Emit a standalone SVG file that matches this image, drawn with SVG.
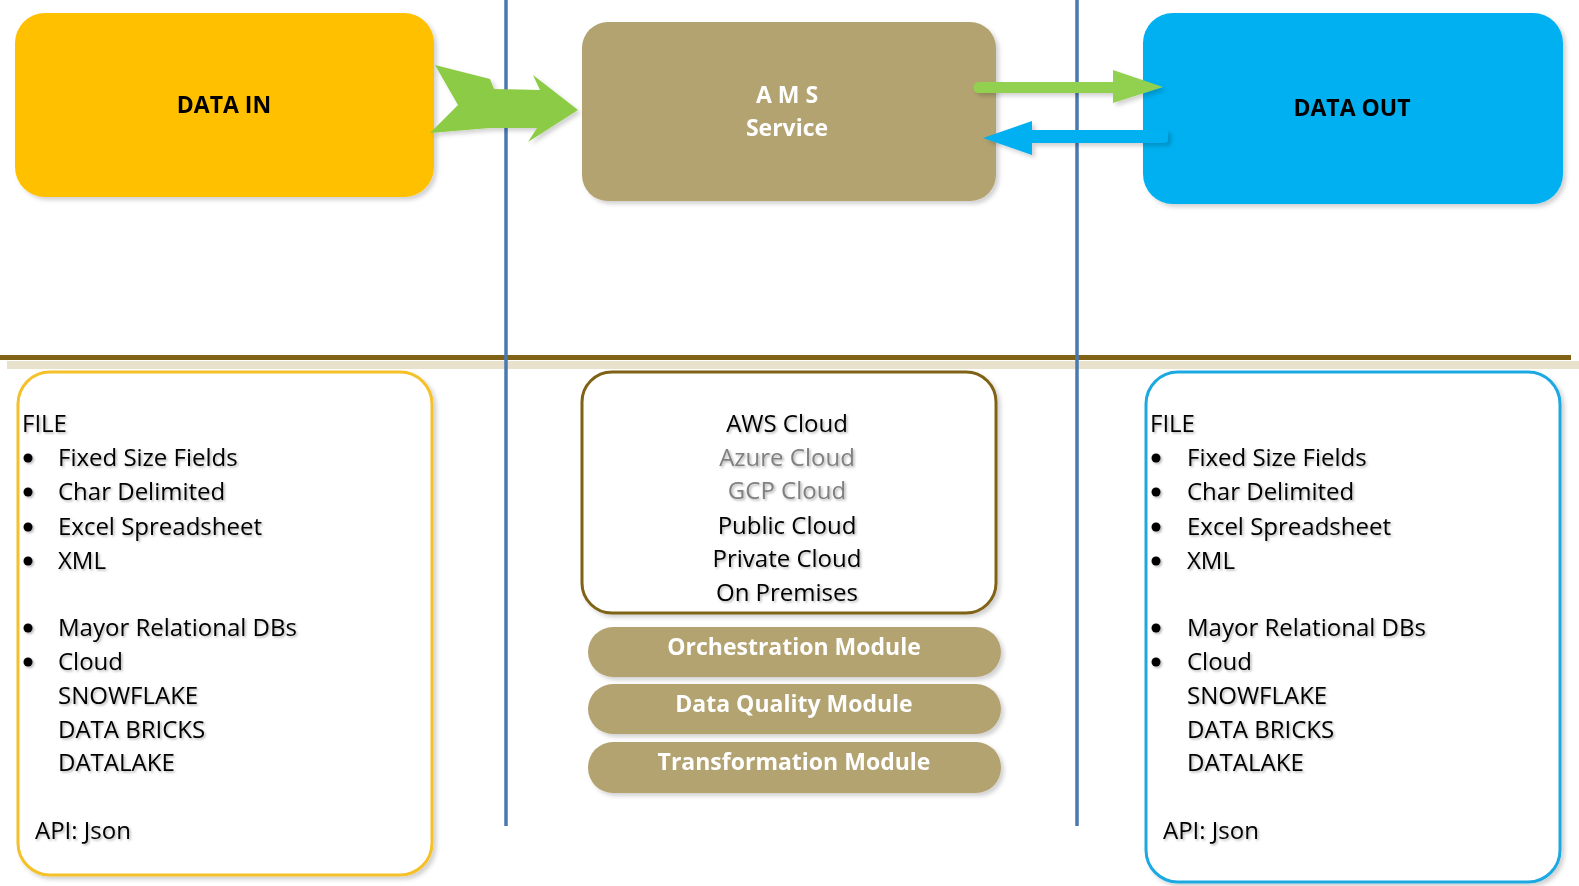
<svg xmlns="http://www.w3.org/2000/svg" width="1579" height="886" viewBox="0 0 1579 886">
<defs>
<filter id="sh" x="-10%" y="-10%" width="125%" height="130%">
<feDropShadow dx="3" dy="3" stdDeviation="2" flood-color="#000" flood-opacity="0.18"/>
</filter>
<filter id="tsh" x="-5%" y="-20%" width="115%" height="150%">
<feDropShadow dx="1.5" dy="1.5" stdDeviation="1" flood-color="#000" flood-opacity="0.3"/>
</filter>
</defs>
<style>
.t{font-family:"Open Sans","Noto Sans",sans-serif;font-size:24px;fill:#000;}
.g{fill:#808080;}
.b{font-weight:bold;font-size:23px;}
.w{fill:#fff;}
.mid{text-anchor:middle;}
.bul{fill:#000;}
.vline{stroke:#4A78B0;stroke-width:3.5;}
</style>
<rect width="1579" height="886" fill="#fff"/>

<!-- separators -->
<g id="separators">
<rect x="7" y="361" width="1572" height="8" fill="#E8E2CC"/>
<line x1="0" y1="357.5" x2="1571" y2="357.5" stroke="#7F6215" stroke-width="5"/>
<line class="vline" x1="506" y1="0" x2="506" y2="826"/>
<line class="vline" x1="1077" y1="0" x2="1077" y2="826"/>
</g>

<g id="data-in" filter="url(#sh)">
<rect x="15" y="13" width="419" height="184" rx="30" fill="#FFC000"/>
<text class="t b mid" x="224" y="113">DATA IN</text>
</g>

<g id="ams-service" filter="url(#sh)">
<rect x="582" y="22" width="414" height="179" rx="26" fill="#B3A371"/>
<text class="t b mid w" x="787" y="103" xml:space="preserve">A M S</text>
<text class="t b mid w" x="787" y="136">Service</text>
</g>

<g id="data-out" filter="url(#sh)">
<rect x="1143" y="13" width="420" height="191" rx="30" fill="#00B0F0"/>
<text class="t b mid" x="1352" y="116">DATA OUT</text>
</g>

<g id="connectors" filter="url(#sh)">
<path d="M435,65 L490,79 L494,89 L540,90 L533,75 L578,110 L528,142 L537,128 L490,128 L430,133 L458,105 Z" fill="#8CCB45"/>
<path d="M979,82 L1113,82 L1113,70 L1163,87 L1113,103 L1113,93 L979,93 A5.5,5.5 0 0 1 979,82 Z" fill="#92D050"/>
<path d="M1168,130 L1032,130 L1032,121 L983,138 L1032,155 L1032,143 L1164,143 Q1168,143 1168,139 Z" fill="#00B0F0"/>
</g>

<g id="input-formats">
<rect x="18" y="372" width="414" height="503" rx="32" fill="#fff" stroke="#F5C12A" stroke-width="3" filter="url(#sh)"/>
<g filter="url(#tsh)">
<text class="t" x="22" y="432">FILE</text>
<circle class="bul" cx="28" cy="458" r="4.5"/>
<circle class="bul" cx="28" cy="492" r="4.5"/>
<circle class="bul" cx="28" cy="527" r="4.5"/>
<circle class="bul" cx="28" cy="561" r="4.5"/>
<circle class="bul" cx="28" cy="628" r="4.5"/>
<circle class="bul" cx="28" cy="662" r="4.5"/>
<text class="t" x="58" y="466">Fixed Size Fields</text>
<text class="t" x="58" y="500">Char Delimited</text>
<text class="t" x="58" y="535">Excel Spreadsheet</text>
<text class="t" x="58" y="569">XML</text>
<text class="t" x="58" y="636">Mayor Relational DBs</text>
<text class="t" x="58" y="670">Cloud</text>
<text class="t" x="58" y="704">SNOWFLAKE</text>
<text class="t" x="58" y="738">DATA BRICKS</text>
<text class="t" x="58" y="771">DATALAKE</text>
<text class="t" x="35" y="839">API: Json</text>
</g>
</g>

<g id="platforms">
<rect x="582" y="372" width="414" height="241" rx="30" fill="#fff" stroke="#7F6215" stroke-width="3" filter="url(#sh)"/>
<g filter="url(#tsh)">
<text class="t mid" x="787" y="432">AWS Cloud</text>
<text class="t mid g" x="787" y="466">Azure Cloud</text>
<text class="t mid g" x="787" y="499">GCP Cloud</text>
<text class="t mid" x="787" y="534">Public Cloud</text>
<text class="t mid" x="787" y="567">Private Cloud</text>
<text class="t mid" x="787" y="601">On Premises</text>
</g>
</g>

<g id="orchestration-module" filter="url(#sh)">
<rect x="588" y="627" width="413" height="50" rx="25" fill="#B3A371"/>
<text class="t b mid w" x="794" y="655">Orchestration Module</text>
</g>
<g id="data-quality-module" filter="url(#sh)">
<rect x="588" y="684" width="413" height="50" rx="25" fill="#B3A371"/>
<text class="t b mid w" x="794" y="712">Data Quality Module</text>
</g>
<g id="transformation-module" filter="url(#sh)">
<rect x="588" y="742" width="413" height="51" rx="25" fill="#B3A371"/>
<text class="t b mid w" x="794" y="770">Transformation Module</text>
</g>

<g id="output-formats">
<rect x="1146" y="372" width="414" height="510" rx="32" fill="#fff" stroke="#1EA9E1" stroke-width="3" filter="url(#sh)"/>
<g filter="url(#tsh)">
<text class="t" x="1150" y="432">FILE</text>
<circle class="bul" cx="1156" cy="458" r="4.5"/>
<circle class="bul" cx="1156" cy="492" r="4.5"/>
<circle class="bul" cx="1156" cy="527" r="4.5"/>
<circle class="bul" cx="1156" cy="561" r="4.5"/>
<circle class="bul" cx="1156" cy="628" r="4.5"/>
<circle class="bul" cx="1156" cy="662" r="4.5"/>
<text class="t" x="1187" y="466">Fixed Size Fields</text>
<text class="t" x="1187" y="500">Char Delimited</text>
<text class="t" x="1187" y="535">Excel Spreadsheet</text>
<text class="t" x="1187" y="569">XML</text>
<text class="t" x="1187" y="636">Mayor Relational DBs</text>
<text class="t" x="1187" y="670">Cloud</text>
<text class="t" x="1187" y="704">SNOWFLAKE</text>
<text class="t" x="1187" y="738">DATA BRICKS</text>
<text class="t" x="1187" y="771">DATALAKE</text>
<text class="t" x="1163" y="839">API: Json</text>
</g>
</g>
</svg>
